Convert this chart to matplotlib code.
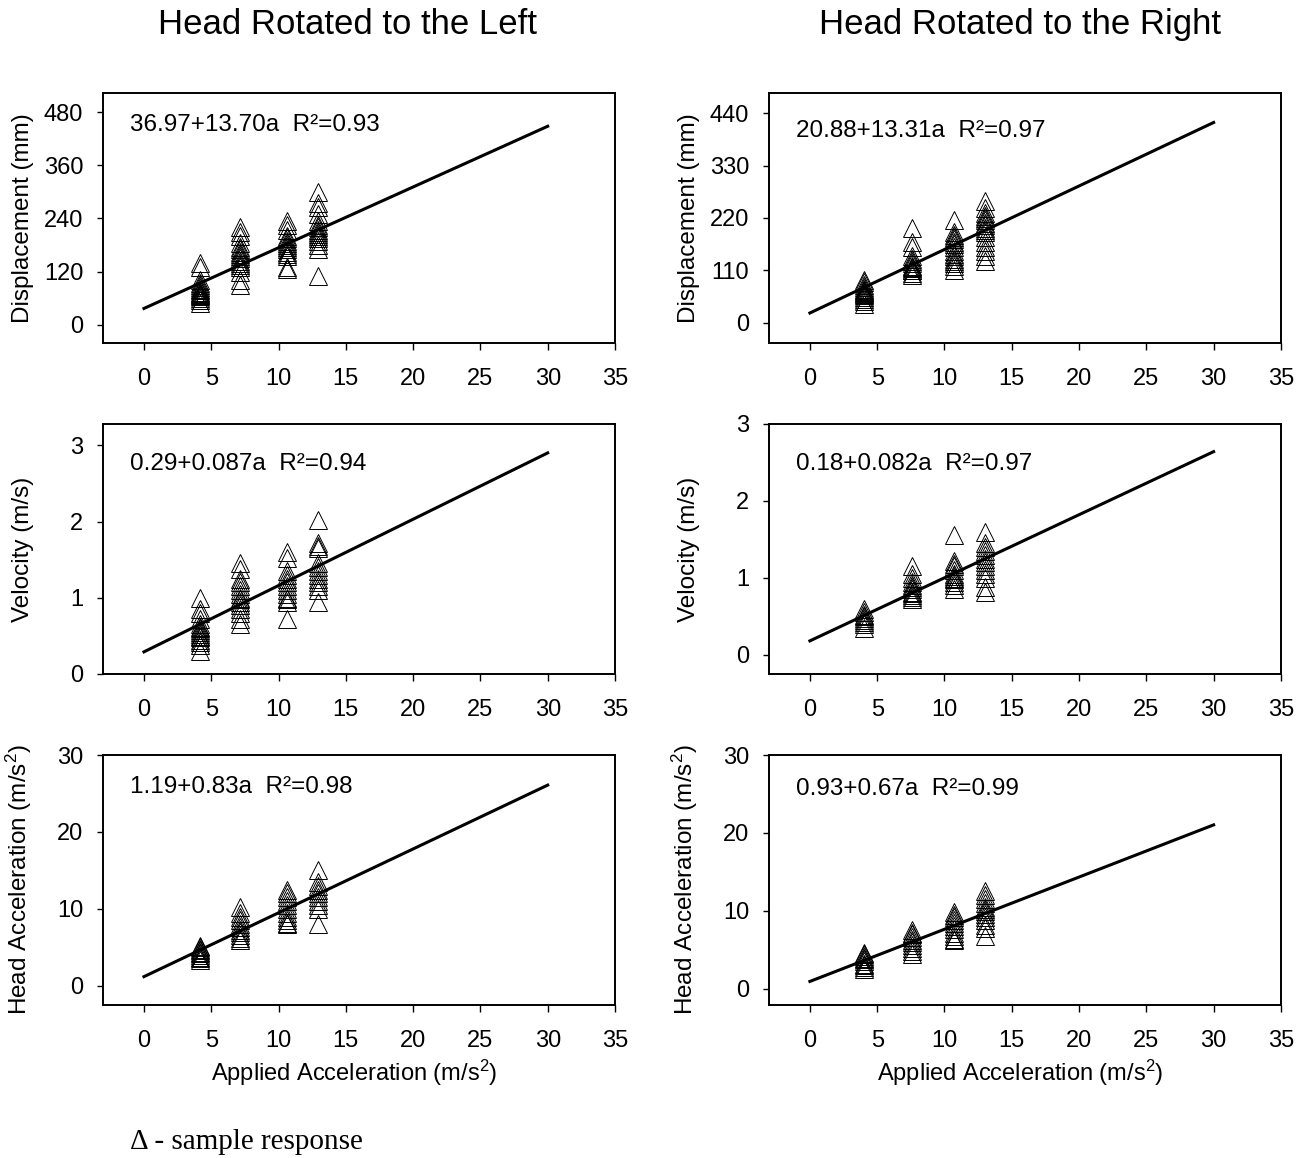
import matplotlib
matplotlib.use('Agg')
import matplotlib.pyplot as plt
import numpy as np

plt.rcParams['font.family'] = ['Liberation Sans', 'DejaVu Sans']
plt.rcParams['mathtext.fontset'] = 'custom'
plt.rcParams['mathtext.rm'] = 'Liberation Sans'
plt.rcParams['mathtext.it'] = 'Liberation Sans:italic'

# applied acceleration levels (m/s^2) for each test group
acc_left = [4.2, 7.1, 10.6, 12.9]
acc_right = [4.0, 7.6, 10.7, 13.0]

# sample responses, head rotated to the left
disp_left = [
    [140, 130, 100, 95, 90, 85, 80, 78, 75, 72, 70, 68, 65, 60, 55, 50],
    [220, 210, 200, 185, 175, 170, 165, 160, 155, 150, 145, 140, 135, 130, 120, 100, 90],
    [235, 225, 215, 200, 195, 190, 185, 180, 175, 170, 165, 160, 155, 130, 125],
    [300, 275, 265, 250, 235, 225, 220, 215, 210, 205, 200, 195, 190, 180, 170, 110],
]
vel_left = [
    [1.0, 0.85, 0.8, 0.72, 0.65, 0.62, 0.6, 0.58, 0.55, 0.52, 0.5, 0.48, 0.45, 0.42, 0.38, 0.3],
    [1.45, 1.38, 1.25, 1.2, 1.15, 1.1, 1.05, 1.0, 0.98, 0.95, 0.9, 0.85, 0.8, 0.72, 0.65],
    [1.6, 1.52, 1.35, 1.3, 1.25, 1.2, 1.15, 1.1, 1.05, 1.0, 0.98, 0.95, 0.72],
    [2.02, 1.72, 1.68, 1.65, 1.45, 1.4, 1.35, 1.3, 1.25, 1.2, 1.15, 1.1, 0.95],
]
hacc_left = [
    [5.2, 5.0, 4.8, 4.6, 4.4, 4.2, 4.0, 3.8, 3.6, 3.4],
    [10.2, 9.5, 9.0, 8.5, 8.0, 7.6, 7.2, 7.0, 6.6, 6.2, 6.0],
    [12.5, 12.0, 11.5, 11.0, 10.5, 10.0, 9.5, 9.0, 8.6, 8.2, 8.0],
    [15.0, 13.5, 13.0, 12.5, 12.0, 11.5, 11.0, 10.5, 10.0, 8.0],
]

# sample responses, head rotated to the right
disp_right = [
    [90, 85, 80, 75, 72, 70, 68, 65, 62, 60, 58, 55, 50, 45, 40],
    [200, 170, 160, 140, 135, 130, 125, 120, 118, 115, 112, 110, 105, 100],
    [215, 190, 185, 180, 175, 170, 165, 160, 150, 145, 140, 135, 130, 125, 120, 110],
    [255, 240, 230, 225, 220, 215, 210, 205, 200, 195, 190, 180, 170, 160, 150, 140, 130],
]
vel_right = [
    [0.6, 0.55, 0.52, 0.5, 0.48, 0.45, 0.42, 0.4, 0.35],
    [1.15, 1.05, 1.0, 0.95, 0.9, 0.88, 0.85, 0.82, 0.8, 0.78, 0.75, 0.72],
    [1.55, 1.22, 1.18, 1.15, 1.1, 1.05, 1.02, 1.0, 0.98, 0.95, 0.9, 0.85],
    [1.6, 1.45, 1.4, 1.35, 1.3, 1.25, 1.2, 1.15, 1.1, 1.05, 1.0, 0.88, 0.82],
]
hacc_right = [
    [4.6, 4.4, 4.2, 4.0, 3.8, 3.5, 3.2, 3.0, 2.8, 2.5],
    [7.5, 7.2, 7.0, 6.6, 6.3, 6.0, 5.6, 5.2, 4.8, 4.4],
    [9.8, 9.5, 9.2, 8.8, 8.4, 8.0, 7.6, 7.2, 6.8, 6.4, 6.2],
    [12.5, 12.0, 11.5, 11.0, 10.5, 10.2, 10.0, 9.6, 9.2, 8.8, 8.2, 7.8, 6.8],
]

# regression fits: (intercept, slope, R^2)
fits_left = [(36.97, 13.70, 0.93), (0.29, 0.087, 0.94), (1.19, 0.83, 0.98)]
fits_right = [(20.88, 13.31, 0.97), (0.18, 0.082, 0.97), (0.93, 0.67, 0.99)]
fit_labels_left = ['36.97+13.70a', '0.29+0.087a', '1.19+0.83a']
fit_labels_right = ['20.88+13.31a', '0.18+0.082a', '0.93+0.67a']

ylabels = ['Displacement (mm)', 'Velocity (m/s)', r'Head Acceleration (m/s$^2$)']
yticks_left = [[0, 120, 240, 360, 480], [0, 1, 2, 3], [0, 10, 20, 30]]
yticks_right = [[0, 110, 220, 330, 440], [0, 1, 2, 3], [0, 10, 20, 30]]
ylims_left = [(-41, 523), (0, 3.28), (-2.5, 30)]
ylims_right = [(-42, 482), (-0.25, 3.0), (-2.1, 30)]

fig = plt.figure(figsize=(13.06, 11.58), dpi=100)

col_x = [0.0789, 0.5888]
col_w = 0.392
row_y = [0.7038, 0.418, 0.1321]
row_h = 0.2159
text_y = [[0.872, 0.84, 0.872], [0.848, 0.84, 0.864]]

columns = [
    (acc_left, [disp_left, vel_left, hacc_left], fits_left, fit_labels_left, yticks_left, ylims_left),
    (acc_right, [disp_right, vel_right, hacc_right], fits_right, fit_labels_right, yticks_right, ylims_right),
]

for c, (acc, series, fits, flabels, yticks, ylims) in enumerate(columns):
    for r in range(3):
        ax = fig.add_axes([col_x[c], row_y[r], col_w, row_h])
        # sample responses as open triangles
        for a, vals in zip(acc, series[r]):
            ax.plot([a] * len(vals), vals, linestyle='none', marker='^', ms=12.5,
                    mfc='none', mec='black', mew=0.7)
        # regression line over 0-30 m/s^2
        b0, b1, r2 = fits[r]
        xs = np.array([0, 30])
        ax.plot(xs, b0 + b1 * xs, color='black', lw=2.2)
        ax.text(0.053, text_y[c][r], flabels[r] + '  R\u00b2=' + f'{r2:.2f}', transform=ax.transAxes,
                fontsize=17.5, ha='left', va='center')
        ax.set_xlim(-3.04, 35)
        ax.set_ylim(*ylims[r])
        ax.set_xticks([0, 5, 10, 15, 20, 25, 30, 35])
        ax.set_yticks(yticks[r])
        ax.tick_params(axis='x', direction='out', length=5, width=1, pad=13, labelsize=17)
        ax.tick_params(axis='y', direction='out', length=4.3, width=1, pad=10, labelsize=17)
        for sp in ax.spines.values():
            sp.set_linewidth(1.4)
        ax.set_ylabel(ylabels[r], fontsize=17.5)
        ax.yaxis.set_label_coords(-0.135, 0.5)
        if r == 2:
            ax.set_xlabel(r'Applied Acceleration (m/s$^2$)', fontsize=17)
            ax.xaxis.set_label_coords(0.49, -0.21)

fig.text(0.2657, 0.979, 'Head Rotated to the Left', fontsize=25, ha='center', va='center')
fig.text(0.781, 0.979, 'Head Rotated to the Right', fontsize=25, ha='center', va='center')
fig.text(0.0995, 0.0138, '\u0394 - sample response', fontsize=21, ha='left', va='center',
         family=['Liberation Serif', 'DejaVu Serif'])

fig.savefig('out.png', dpi=100)
